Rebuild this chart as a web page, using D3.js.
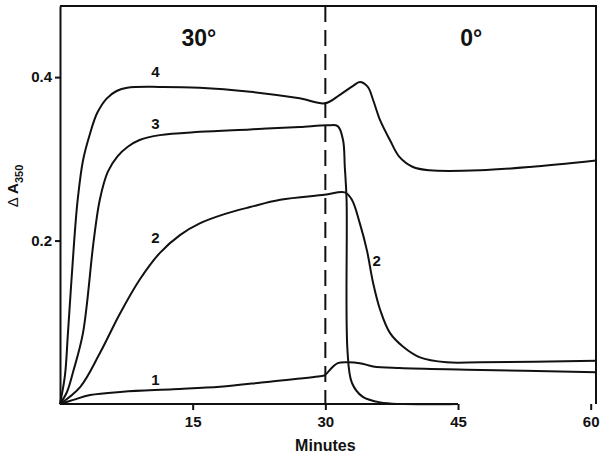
<!DOCTYPE html>
<html>
<head>
<meta charset="utf-8">
<script src="https://cdn.jsdelivr.net/npm/d3@7"></script>
<style>
  body { margin: 0; background: #fff; }
  text { font-family: "Liberation Sans", Arial, sans-serif; font-weight: bold; fill: #111; }
</style>
</head>
<body>
<svg id="chart" width="600" height="459"></svg>
<script>
// curves: [minutes, delta A350]
var curve1 = [[0,0],[1.5,0.005],[3.4,0.011],[7.1,0.015],[12.8,0.018],[18.1,0.021],[23.4,0.027],[29.4,0.034],[29.9,0.035],
  [30.8,0.045],[31.4,0.050],[32.4,0.051],[33.9,0.050],[35.4,0.046],[38.4,0.044],[46,0.042],[60.6,0.039]];
var curve2 = [[0,0],[2.3,0.021],[4.5,0.062],[6.8,0.111],[9.0,0.152],[11.3,0.185],[13.6,0.207],[15.8,0.221],[18.5,0.232],[21.5,0.241],
  [24.9,0.250],[29.9,0.256],[32.2,0.259],[33.0,0.250],[33.9,0.221],[34.7,0.188],[35.4,0.148],[36.2,0.115],[37.3,0.087],
  [38.8,0.070],[40.7,0.057],[43.7,0.051],[47.5,0.051],[60.6,0.053]];
var curve3 = [[0,0],[0.8,0.015],[1.5,0.04],[2.6,0.087],[3.8,0.199],[4.5,0.250],[5.4,0.284],[6.5,0.303],[7.7,0.315],[9.0,0.323],[11.3,0.329],
  [15.8,0.333],[21.5,0.336],[27.1,0.339],[30.2,0.341],[31.4,0.340],[32.0,0.323],[32.2,0.290],[32.4,0.250],[32.5,0.066],
  [33.0,0.026],[34.2,0.009],[36.2,0.002],[45,0]];
var curve4 = [[0,0],[0.56,0.035],[0.9,0.087],[1.6,0.199],[2.0,0.250],[2.6,0.298],[3.4,0.331],[4.2,0.356],[5.3,0.374],
  [6.4,0.383],[7.6,0.387],[11.3,0.388],[15.8,0.387],[21.5,0.382],[27.1,0.374],[30.0,0.368],[31.6,0.378],[33.1,0.389],
  [33.9,0.394],[34.8,0.388],[35.4,0.372],[36.2,0.347],[37.3,0.323],[38.4,0.302],[39.9,0.290],[41.8,0.286],[47.5,0.286],
  [53.1,0.290],[60.6,0.298]];
var curves = [curve1, curve2, curve3, curve4];

// labels next to curves [minutes, value, text]
var curveLabels = [[10.8,0.023,"1"],[10.8,0.197,"2"],[10.8,0.337,"3"],[10.8,0.4,"4"],[35.8,0.169,"2"]];
var phaseLabels = [[15.7,"30°"],[46.5,"0°"]];
var xTicks = [15, 30, 45, 60];
var yTicks = [0.2, 0.4];

var svg = d3.select("#chart");
var x = d3.scaleLinear().domain([0, 60.6]).range([60, 596]);
var y = d3.scaleLinear().domain([0, 0.487]).range([404, 6]);

// frame: top and right
svg.append("path")
  .attr("d", "M" + x(0) + "," + y(0.487) + "H" + x(60.6) + "V" + y(0))
  .attr("fill", "none").attr("stroke", "#111").attr("stroke-width", 2);

// left axis
var gy = svg.append("g").attr("transform", "translate(" + x(0) + ",0)")
  .call(d3.axisLeft(y).tickValues(yTicks).tickSize(5).tickSizeOuter(0).tickFormat(d3.format(".1f")));
gy.select(".domain").attr("stroke-width", 2).attr("stroke", "#111");
gy.selectAll(".tick line").attr("stroke-width", 2).attr("stroke", "#111");
gy.selectAll(".tick text").attr("x", -8).style("font-size", "15px")
  .style("font-family", "'Liberation Sans', Arial, sans-serif").style("font-weight", "bold");

// bottom axis, line only runs to 45
var gx = svg.append("g").attr("transform", "translate(0," + y(0) + ")")
  .call(d3.axisBottom(x).tickValues(xTicks).tickSize(6));
gx.select(".domain").remove();
gx.append("line").attr("x1", x(0)).attr("x2", x(45)).attr("stroke", "#111").attr("stroke-width", 2);
gx.selectAll(".tick line").attr("stroke-width", 2).attr("stroke", "#111");
gx.selectAll(".tick text").attr("y", 12).style("font-size", "15px")
  .style("font-family", "'Liberation Sans', Arial, sans-serif").style("font-weight", "bold");

// dashed divider at 30 min
svg.append("line")
  .attr("x1", x(30)).attr("x2", x(30)).attr("y1", y(0.487)).attr("y2", y(0))
  .attr("stroke", "#111").attr("stroke-width", 2).attr("stroke-dasharray", "16,8");

var line = d3.line().x(function(d){ return x(d[0]); }).y(function(d){ return y(d[1]); })
  .curve(d3.curveCatmullRom.alpha(0.5));

svg.selectAll(".curve").data(curves).enter().append("path")
  .attr("class", "curve")
  .attr("d", line)
  .attr("fill", "none").attr("stroke", "#111").attr("stroke-width", 2);

svg.selectAll(".clab").data(curveLabels).enter().append("text")
  .attr("class", "clab")
  .attr("x", function(d){ return x(d[0]); })
  .attr("y", function(d){ return y(d[1]); })
  .attr("text-anchor", "middle")
  .style("font-size", "15px")
  .text(function(d){ return d[2]; });

svg.selectAll(".plab").data(phaseLabels).enter().append("text")
  .attr("class", "plab")
  .attr("x", function(d){ return x(d[0]); })
  .attr("y", 46)
  .attr("text-anchor", "middle")
  .style("font-size", "23px")
  .text(function(d){ return d[1]; });

svg.append("text")
  .attr("x", x(30)).attr("y", 451)
  .attr("text-anchor", "middle")
  .style("font-size", "16px")
  .text("Minutes");

var yl = svg.append("text")
  .attr("transform", "translate(18,186) rotate(-90)")
  .attr("text-anchor", "middle")
  .style("font-size", "15px");
yl.append("tspan").style("font-weight", "normal").text("\u0394 ");
yl.append("tspan").text("A");
yl.append("tspan").attr("dy", 5).style("font-size", "11px").text("350");
</script>
</body>
</html>
